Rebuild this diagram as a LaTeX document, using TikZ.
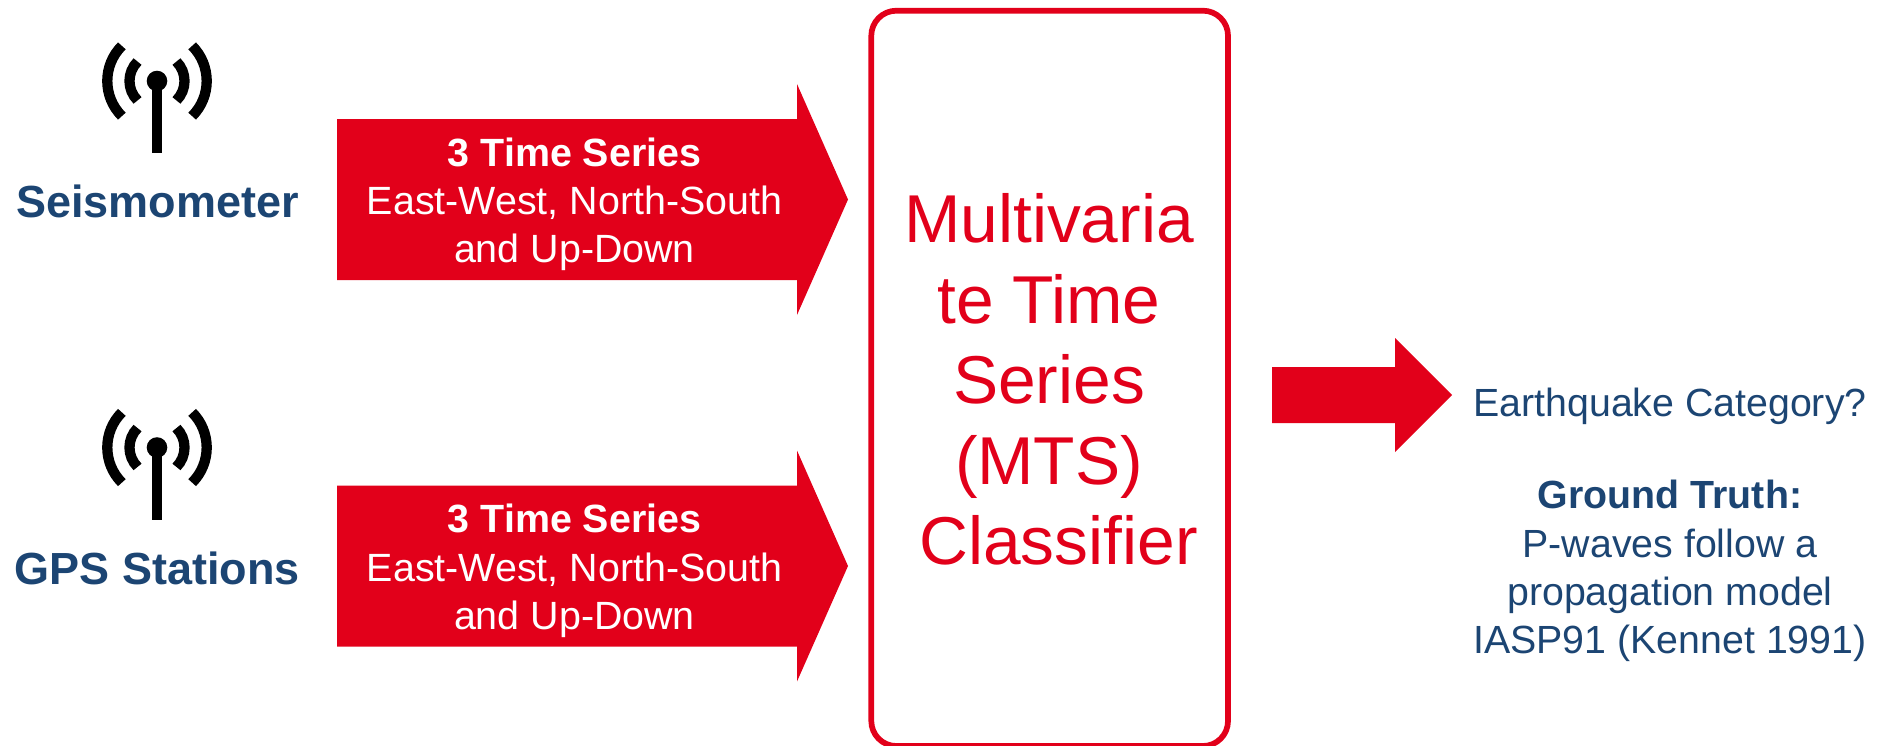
\documentclass[tikz,border=0pt]{standalone}
\usepackage{fontspec}
\setmainfont{Liberation Sans}
\definecolor{brandred}{HTML}{E2001A}
\definecolor{navy}{HTML}{1C4573}
\newcommand{\fsz}[2]{\fontsize{#1}{#2}\selectfont}
\newcommand{\antennaicon}[2]{%
  \begin{scope}[shift={(#1,#2)}]
    \fill[black] (0,0) circle (10.3);
    \fill[black] (-5.2,0) rectangle (5.2,72);
    \draw[line width=10.3pt,black] (135:49.7) arc (135:225:49.7);
    \draw[line width=10.3pt,black] (45:49.7) arc (45:-45:49.7);
    \draw[line width=10.3pt,black] (135:27.5) arc (135:225:27.5);
    \draw[line width=10.3pt,black] (45:27.5) arc (45:-45:27.5);
  \end{scope}}
\newcommand{\bigarrow}[1]{%
  \fill[brandred,shift={(0,#1)}] (337,119) -- (797,119) -- (797,84) -- (848,199.5) -- (797,315) -- (797,280) -- (337,280) -- cycle;}
\tikzset{
  x=1pt,y=-1pt,
  device/.style={font=\fsz{45}{50}\bfseries,text=navy,inner sep=0pt,anchor=center},
  serieslabel/.style={font=\fsz{39.4}{48.2},text=white,align=center,inner sep=0pt,anchor=center},
  classifier/.style={draw=brandred,line width=5.7pt,rounded corners=25pt,fill=white},
  classlabel/.style={font=\fsz{67.7}{80.5},text=brandred,align=center,inner sep=0pt,anchor=center},
  result/.style={font=\fsz{39.3}{48.2},text=navy,align=center,inner sep=0pt,anchor=center}
}
\begin{document}
\begin{tikzpicture}
\useasboundingbox (0,0) rectangle (1885,745);
\antennaicon{157}{81}
\antennaicon{157}{447.5}
\node[device] (seis) at (157.5,201) {Seismometer};
\node[device] (gps) at (157.5,568) {GPS Stations};
\bigarrow{0}
\bigarrow{366.5}
\node[serieslabel] (ts1) at (574.5,204.5) {\textbf{3 Time Series}\\East-West, North-South\\and Up-Down};
\node[serieslabel] (ts2) at (574.5,571) {\textbf{3 Time Series}\\East-West, North-South\\and Up-Down};
\draw[classifier] (871.3,10.7) rectangle (1228,746);
\node[classlabel] (mts) at (1049,379.5) {Multivaria\\te Time\\Series\\(MTS)\\\ Classifier};
\fill[brandred] (1272,367) -- (1395,367) -- (1395,338) -- (1452,395) -- (1395,452) -- (1395,423) -- (1272,423) -- cycle;
\node[result] (cat) at (1670,406.5) {Earthquake Category?};
\node[result] (truth) at (1670,571) {\textbf{Ground Truth:}\\P-waves follow a\\propagation model\\IASP91 (Kennet 1991)};
\end{tikzpicture}
\end{document}
